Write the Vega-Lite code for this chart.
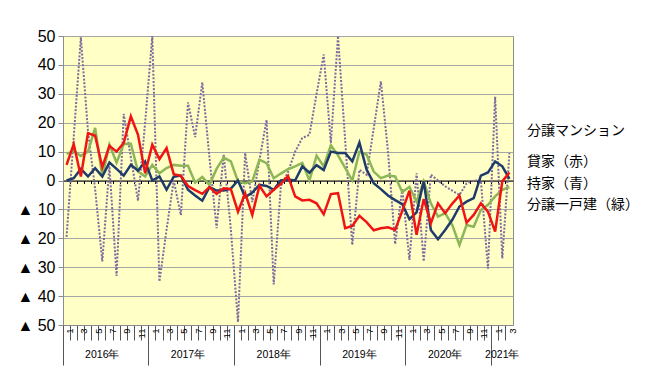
{
  "$schema": "https://vega.github.io/schema/vega-lite/v6.json",
  "width": 450,
  "height": 289,
  "autosize": {"type": "none"},
  "padding": {"left": 63, "top": 36, "right": 137, "bottom": 58},
  "background": "white",
  "config": {
    "view": {"fill": "#FFFFC6", "stroke": "#8C8C8C", "strokeWidth": 1},
    "font": "Liberation Sans"
  },
  "data": {
    "values": [
      {"ym": "2016-01", "mansion": -19.5, "rent": 5.4, "own": 0, "house": 9.2},
      {"ym": "2016-02", "mansion": 15, "rent": 12.6, "own": 0.8, "house": 10.2},
      {"ym": "2016-03", "mansion": 49.5, "rent": 1.4, "own": 4, "house": 8.5},
      {"ym": "2016-04", "mansion": 17, "rent": 16.4, "own": 1.4, "house": 10},
      {"ym": "2016-05", "mansion": -3, "rent": 15.5, "own": 4.3, "house": 18.2},
      {"ym": "2016-06", "mansion": -28, "rent": 4.6, "own": 1.4, "house": 1.4},
      {"ym": "2016-07", "mansion": 5, "rent": 12, "own": 6.2, "house": 12.4},
      {"ym": "2016-08", "mansion": -33, "rent": 10, "own": 4, "house": 6.2},
      {"ym": "2016-09", "mansion": 23, "rent": 13, "own": 1.7, "house": 12.6},
      {"ym": "2016-10", "mansion": 8, "rent": 22.2, "own": 5.4, "house": 12.7},
      {"ym": "2016-11", "mansion": -7, "rent": 15.8, "own": 3.4, "house": 3.1},
      {"ym": "2016-12", "mansion": 20, "rent": 2.5, "own": 6.6, "house": 1.4},
      {"ym": "2017-01", "mansion": 50, "rent": 12.4, "own": 0, "house": 5.4},
      {"ym": "2017-02", "mansion": -35, "rent": 7.4, "own": 1.4, "house": 2.5},
      {"ym": "2017-03", "mansion": -17, "rent": 11.2, "own": -3.2, "house": 4.3},
      {"ym": "2017-04", "mansion": 0, "rent": 2.2, "own": 1.3, "house": 5.4},
      {"ym": "2017-05", "mansion": -12, "rent": 1.6, "own": 1.7, "house": 5.1},
      {"ym": "2017-06", "mansion": 27, "rent": -1.9, "own": -3.2, "house": 5.1},
      {"ym": "2017-07", "mansion": 15, "rent": -3.3, "own": -5.2, "house": -0.7},
      {"ym": "2017-08", "mansion": 34, "rent": -4.6, "own": -7, "house": 1.2},
      {"ym": "2017-09", "mansion": 8, "rent": -2.3, "own": -2.3, "house": -1.5},
      {"ym": "2017-10", "mansion": -16.5, "rent": -4.6, "own": -3.5, "house": 4},
      {"ym": "2017-11", "mansion": 9, "rent": -2.7, "own": -3.5, "house": 7.9},
      {"ym": "2017-12", "mansion": -17, "rent": -3, "own": -2.8, "house": 6.6},
      {"ym": "2018-01", "mansion": -49, "rent": -10.8, "own": 0, "house": -0.3},
      {"ym": "2018-02", "mansion": 9.5, "rent": -4.4, "own": -5.8, "house": -0.9},
      {"ym": "2018-03", "mansion": -7.5, "rent": -11.9, "own": -4.2, "house": -0.3},
      {"ym": "2018-04", "mansion": 7, "rent": -1.8, "own": -1.5, "house": 7.2},
      {"ym": "2018-05", "mansion": 21, "rent": -5.5, "own": -1.9, "house": 6},
      {"ym": "2018-06", "mansion": -36, "rent": -3.2, "own": -3.2, "house": 0.8},
      {"ym": "2018-07", "mansion": -2, "rent": -1.2, "own": 0, "house": 2.4},
      {"ym": "2018-08", "mansion": 3, "rent": 1.6, "own": 0.3, "house": 3.9},
      {"ym": "2018-09", "mansion": 10, "rent": -5.5, "own": 0, "house": 4.9},
      {"ym": "2018-10", "mansion": 14.7, "rent": -6.9, "own": 4.9, "house": 6.1},
      {"ym": "2018-11", "mansion": 15.8, "rent": -6.7, "own": 2.7, "house": 0},
      {"ym": "2018-12", "mansion": 30, "rent": -7.9, "own": 5.3, "house": 8.6},
      {"ym": "2019-01", "mansion": 43.6, "rent": -11.7, "own": 3.6, "house": 4.9},
      {"ym": "2019-02", "mansion": 13, "rent": -4.7, "own": 10, "house": 12.2},
      {"ym": "2019-03", "mansion": 50, "rent": -4.4, "own": 9.5, "house": 8.7},
      {"ym": "2019-04", "mansion": 14, "rent": -16.5, "own": 9.5, "house": 4.4},
      {"ym": "2019-05", "mansion": -22.3, "rent": -15.7, "own": 6.6, "house": 0},
      {"ym": "2019-06", "mansion": 3.7, "rent": -12.2, "own": 13.1, "house": 10},
      {"ym": "2019-07", "mansion": 2, "rent": -14.4, "own": 3.8, "house": 9},
      {"ym": "2019-08", "mansion": 18, "rent": -17.2, "own": -0.9, "house": 3.1},
      {"ym": "2019-09", "mansion": 34.3, "rent": -16.5, "own": -3, "house": 0.8},
      {"ym": "2019-10", "mansion": 10, "rent": -16.2, "own": -5.2, "house": 1.7},
      {"ym": "2019-11", "mansion": -22, "rent": -17.1, "own": -6.8, "house": 1.4},
      {"ym": "2019-12", "mansion": -3, "rent": -10.5, "own": -8.2, "house": -4},
      {"ym": "2020-01", "mansion": -27.5, "rent": -3.5, "own": -13.4, "house": -2.2},
      {"ym": "2020-02", "mansion": 2.5, "rent": -18.8, "own": -11, "house": -7.3},
      {"ym": "2020-03", "mansion": -28, "rent": -6.4, "own": -0.3, "house": -0.3},
      {"ym": "2020-04", "mansion": 2, "rent": -14.8, "own": -17.1, "house": -7.9},
      {"ym": "2020-05", "mansion": 0, "rent": -7.9, "own": -20.3, "house": -12.5},
      {"ym": "2020-06", "mansion": -2, "rent": -11.3, "own": -17.1, "house": -11.3},
      {"ym": "2020-07", "mansion": -3.5, "rent": -8, "own": -13.6, "house": -15.4},
      {"ym": "2020-08", "mansion": -5, "rent": -5.2, "own": -9, "house": -22.3},
      {"ym": "2020-09", "mansion": -1, "rent": -14.6, "own": -7.3, "house": -15.4},
      {"ym": "2020-10", "mansion": 0, "rent": -11.9, "own": -6.1, "house": -16},
      {"ym": "2020-11", "mansion": 0, "rent": -7.9, "own": 1.7, "house": -10.2},
      {"ym": "2020-12", "mansion": -30.5, "rent": -10.8, "own": 2.8, "house": -8.4},
      {"ym": "2021-01", "mansion": 29, "rent": -17.7, "own": 6.6, "house": -5.5},
      {"ym": "2021-02", "mansion": -27, "rent": -0.3, "own": 4.9, "house": -3.2},
      {"ym": "2021-03", "mansion": 9.5, "rent": 2.8, "own": 0.6, "house": -2.3}
    ]
  },
  "resolve": {"axis": {"x": "independent"}},
  "layer": [
    {
      "mark": {"type": "line", "strokeDash": [2, 1.6], "strokeWidth": 2, "clip": true},
      "encoding": {
        "x": {
          "field": "ym", "type": "ordinal", "bandPosition": 0.5,
          "scale": {"type": "band", "paddingInner": 0, "paddingOuter": 0},
          "axis": {
            "orient": "bottom",
            "title": null, "bandPosition": 0, "tickSize": 15, "tickColor": "#555555",
            "domainColor": "#8C8C8C", "labelAngle": 270, "labelOffset": 3.57,
            "labelExpr": "toNumber(slice(datum.value, 5, 7)) % 2 == 1 ? '' + toNumber(slice(datum.value, 5, 7)) : ''",
            "labelPadding": -12, "labelFontSize": 9.5, "labelColor": "black",
            "labelOverlap": false, "labelFlush": false, "labelBound": false, "grid": false
          }
        },
        "y": {
          "field": "mansion", "type": "quantitative", "title": null,
          "scale": {"domain": [-50, 50], "nice": false, "zero": false},
          "axis": {
            "values": [-50, -40, -30, -20, -10, 0, 10, 20, 30, 40, 50],
            "tickCount": 30,
            "labelExpr": "datum.value < 0 ? '▲  ' + abs(datum.value) : '' + datum.value",
            "grid": true, "gridColor": "#A6A6A6", "gridOpacity": 1,
            "domainColor": "#8C8C8C", "tickColor": "#8C8C8C", "tickSize": 5,
            "labelFontSize": 16, "labelColor": "black", "labelPadding": 3,
            "labelOverlap": false, "labelFlush": false, "labelBound": false,
            "labelFont": "Liberation Sans"
          }
        },
        "color": {
          "datum": "分譲マンション", "type": "nominal",
          "scale": {
            "domain": ["分譲マンション", "貸家（赤）", "持家（青）", "分譲一戸建（緑）"],
            "range": ["#7E6A9E", "#F01414", "#1F3B6B", "#8DB658"]
          },
          "legend": {
            "orient": "none", "legendX": 464, "legendY": 88,
            "title": "分譲マンション",
            "values": ["貸家（赤）", "持家（青）", "分譲一戸建（緑）"],
            "symbolOpacity": 0, "symbolSize": 0, "symbolStrokeWidth": 0,
            "labelOffset": -14, "padding": 0, "rowPadding": 7.5, "titlePadding": 17,
            "labelFont": "Noto Sans CJK JP", "titleFont": "Noto Sans CJK JP",
            "labelFontSize": 14, "titleFontSize": 14, "titleFontWeight": "normal",
            "labelColor": "black", "titleColor": "black", "labelLimit": 200
          }
        }
      }
    },
    {
      "mark": {"type": "line", "strokeWidth": 2.5, "clip": true},
      "encoding": {
        "x": {
          "field": "ym", "type": "ordinal", "bandPosition": 0.5,
          "scale": {"type": "band", "paddingInner": 0, "paddingOuter": 0},
          "axis": {
            "orient": "bottom",
            "title": null, "values": ["2016-01", "2017-01", "2018-01", "2019-01", "2020-01", "2021-01"],
            "bandPosition": 0, "tickSize": 40, "tickColor": "#555555",
            "labels": false, "domain": false, "grid": false
          }
        },
        "y": {"field": "house", "type": "quantitative", "title": null},
        "color": {"datum": "分譲一戸建（緑）", "type": "nominal"}
      }
    },
    {
      "mark": {"type": "line", "strokeWidth": 2.5, "clip": true},
      "encoding": {
        "x": {
          "field": "ym", "type": "ordinal", "bandPosition": 0.5,
          "scale": {"type": "band", "paddingInner": 0, "paddingOuter": 0},
          "axis": {
            "orient": "bottom",
            "title": null, "values": ["2016-06", "2017-06", "2018-06", "2019-06", "2020-06", "2021-02"],
            "bandPosition": 1, "ticks": false, "domain": false, "grid": false,
            "labelExpr": "slice(datum.value, 0, 4) + '年'", "labelPadding": 24,
            "labelFontSize": 10.5, "labelColor": "black", "labelAngle": 0,
            "labelOverlap": false, "labelFlush": false, "labelBound": false
          }
        },
        "y": {"field": "own", "type": "quantitative", "title": null},
        "color": {"datum": "持家（青）", "type": "nominal"}
      }
    },
    {
      "mark": {"type": "line", "strokeWidth": 2.5, "clip": true},
      "encoding": {
        "x": {
          "field": "ym", "type": "ordinal", "bandPosition": 0.5,
          "scale": {"type": "band", "paddingInner": 0, "paddingOuter": 0},
          "axis": {
            "orient": "bottom",
            "title": null, "bandPosition": 0, "offset": -144.5, "tickSize": 3,
            "tickColor": "black", "domainColor": "black", "labels": false, "grid": false
          }
        },
        "y": {"field": "rent", "type": "quantitative", "title": null},
        "color": {"datum": "貸家（赤）", "type": "nominal"}
      }
    }
  ]
}
